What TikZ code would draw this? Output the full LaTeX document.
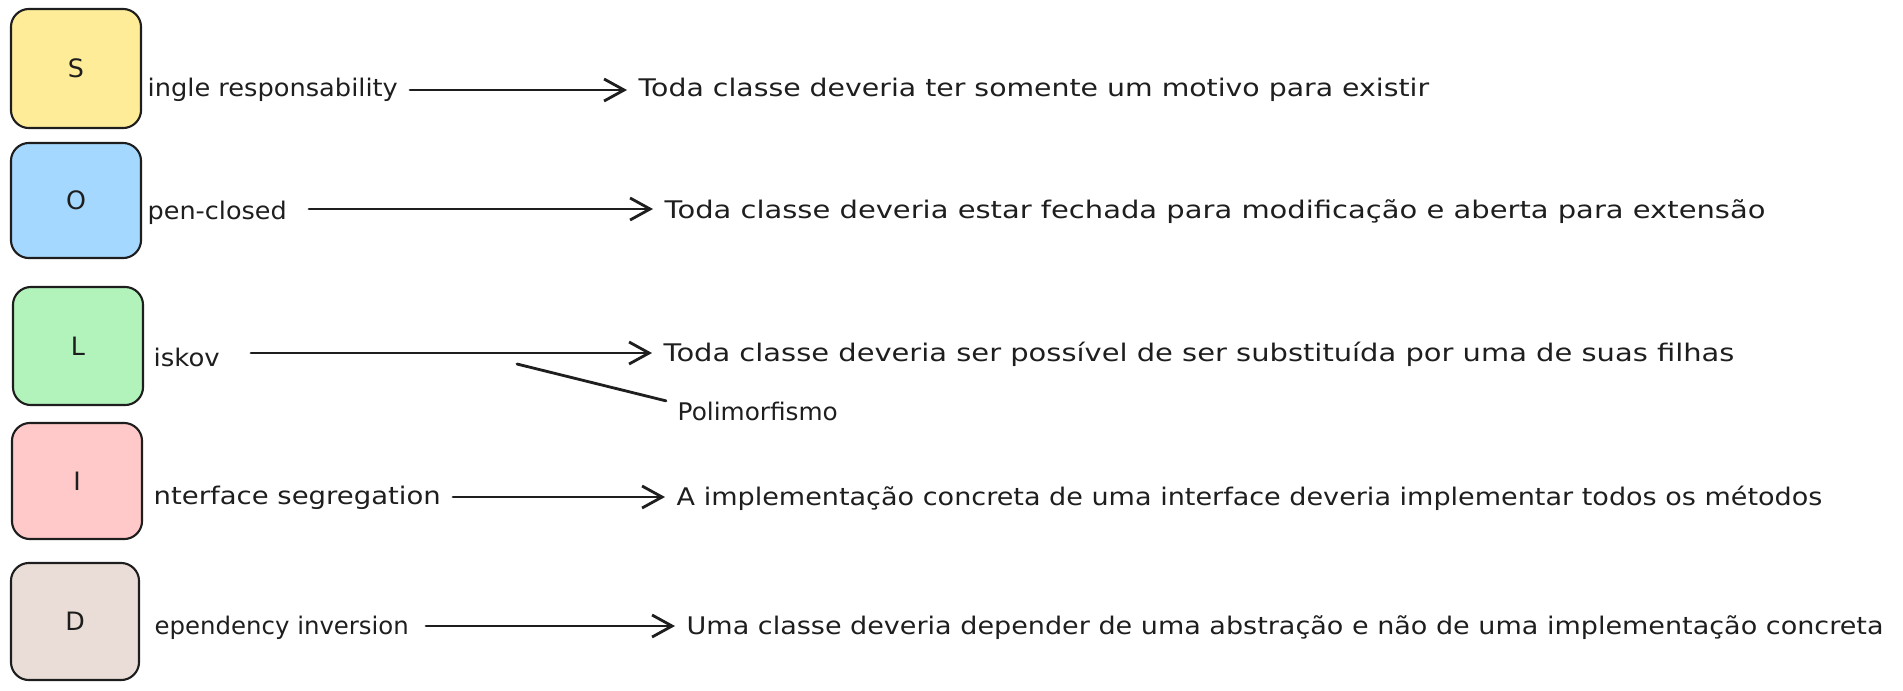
\documentclass[tikz,border=0pt]{standalone}
\usepackage{fontspec}
\usepackage{graphicx}
\setmainfont{DejaVu Sans}
\usetikzlibrary{arrows.meta}
\definecolor{ink}{HTML}{1E1E1E}
\definecolor{cS}{HTML}{FFEC99}
\definecolor{cO}{HTML}{A5D8FF}
\definecolor{cL}{HTML}{B2F2BB}
\definecolor{cI}{HTML}{FFC9C9}
\definecolor{cD}{HTML}{EADDD7}
\newcommand{\fitw}[2]{\resizebox{#1}{\height}{#2}}
\begin{document}
\begin{tikzpicture}[x=0.01cm,y=-0.01cm,
  letterbox/.style={draw=ink, line width=0.6pt, rounded corners=0.18cm, inner sep=0pt,
    text=ink, font=\fontsize{7.2pt}{8pt}\selectfont},
  txt/.style={text=ink, font=\fontsize{6.9pt}{8pt}\selectfont, inner sep=0pt, anchor=base west},
  desc/.style={txt, inner xsep=0.11cm},
  arr/.style={draw=ink, line width=0.8pt, line cap=round,
    -{Straight Barb[length=0.2cm, width=0.22cm, line width=0.8pt]}},
  plain/.style={draw=ink, line width=0.8pt, line cap=round}]
\useasboundingbox (0,0) rectangle (1903,690);
% letter boxes
\node[letterbox, fill=cS, minimum width=1.30cm, minimum height=1.19cm] (bS) at (76,68.5) {S};
\node[letterbox, fill=cO, minimum width=1.30cm, minimum height=1.15cm] (bO) at (76,200.5) {O};
\node[letterbox, fill=cL, minimum width=1.30cm, minimum height=1.18cm] (bL) at (78,346) {L};
\node[letterbox, fill=cI, minimum width=1.30cm, minimum height=1.16cm] (bI) at (77,481) {I};
\node[letterbox, fill=cD, minimum width=1.28cm, minimum height=1.17cm] (bD) at (75,621.5) {D};
% labels
\node[txt] (lS) at (147,96) {\fitw{2.50cm}{ingle responsability}};
\node[txt] (lO) at (147,219) {\fitw{1.39cm}{pen-closed}};
\node[txt] (lL) at (153,366) {\fitw{0.66cm}{iskov}};
\node[txt] (lI) at (153,504) {\fitw{2.87cm}{nterface segregation}};
\node[txt] (lD) at (154,634) {\fitw{2.54cm}{ependency inversion}};
% descriptions
\node[desc] (dS) at (627,96) {\fitw{7.90cm}{Toda classe deveria ter somente um motivo para existir}};
\node[desc] (dO) at (653,218) {\fitw{11.00cm}{Toda classe deveria estar fechada para modificação e aberta para extensão}};
\node[desc] (dL) at (652,361) {\fitw{10.70cm}{Toda classe deveria ser possível de ser substituída por uma de suas filhas}};
\node[desc] (dI) at (665,505) {\fitw{11.45cm}{A implementação concreta de uma interface deveria implementar todos os métodos}};
\node[desc] (dD) at (675,634) {\fitw{11.96cm}{Uma classe deveria depender de uma abstração e não de uma implementação concreta}};
\node[txt] (poly) at (677,420) {\fitw{1.60cm}{Polimorfismo}};
% arrow starts
\coordinate (aS) at (410,90);
\coordinate (aO) at (309,209);
\coordinate (aL) at (251,353);
\coordinate (aI) at (453,497);
\coordinate (aD) at (426,626);
\coordinate (pL) at (517,364);
% connectors
\draw[arr] (aS) -- (aS -| dS.west);
\draw[arr] (aO) -- (aO -| dO.west);
\draw[arr] (aL) -- (aL -| dL.west);
\draw[arr] (aI) -- (aI -| dI.west);
\draw[arr] (aD) -- (aD -| dD.west);
\draw[plain] (pL) -- ([xshift=-0.11cm]poly.north west);
\end{tikzpicture}
\end{document}
